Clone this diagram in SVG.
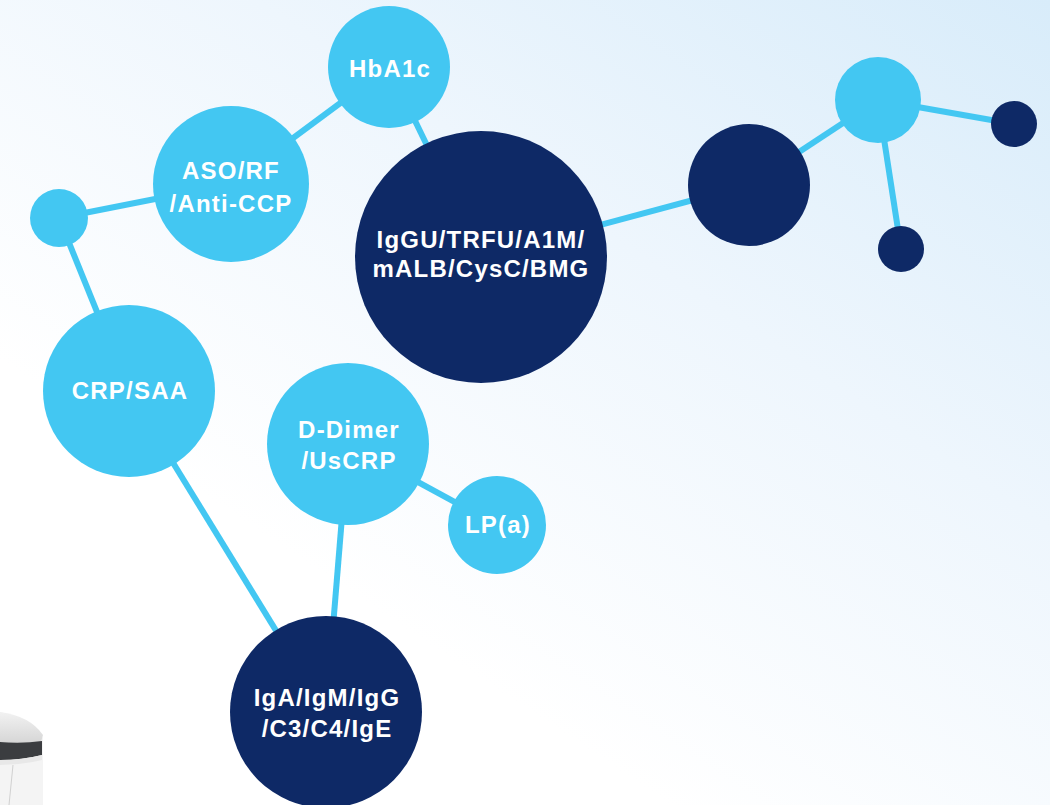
<svg xmlns="http://www.w3.org/2000/svg" width="1050" height="805" viewBox="0 0 1050 805">
<defs>
<linearGradient id="bg" x1="1" y1="0" x2="0.35" y2="0.75">
<stop offset="0" stop-color="#d8ecfa"/>
<stop offset="0.5" stop-color="#eef6fd"/>
<stop offset="1" stop-color="#ffffff"/>
</linearGradient>
<linearGradient id="lid" x1="0" y1="0" x2="0" y2="1">
<stop offset="0" stop-color="#f2f2f2"/>
<stop offset="1" stop-color="#d6d6d6"/>
</linearGradient>
<style>
.lb{fill:#43c7f2}
.db{fill:#0e2966}
.t{fill:#ffffff;font-family:"Liberation Sans",Arial,sans-serif;font-weight:bold;font-size:24px;letter-spacing:1.2px;text-anchor:middle}
#connectors line{stroke:#43c7f2;stroke-width:6}
</style>
</defs>
<rect width="1050" height="805" fill="url(#bg)"/>
<g id="device">
<path d="M0,712 Q30,718 43,738 L43,805 L0,805 Z" fill="#f4f4f4"/>
<path d="M0,712 Q30,716 43,735 L41,742 Q20,744 0,742 Z" fill="url(#lid)"/>
<path d="M0,742 Q22,744 42,741 L42,755 Q22,760 0,760 Z" fill="#3b3d40"/>
<path d="M0,760 Q22,760 42,755 L42,760 Q22,765 0,765 Z" fill="#e8e8e8"/>
<line x1="13" y1="765" x2="9" y2="805" stroke="#d0d0d0" stroke-width="1"/>
</g>
<g id="connectors">
<line x1="59" y1="218" x2="231" y2="184"/>
<line x1="59" y1="218" x2="129" y2="391"/>
<line x1="231" y1="184" x2="389" y2="67"/>
<line x1="389" y1="67" x2="481" y2="257"/>
<line x1="481" y1="257" x2="749" y2="185"/>
<line x1="749" y1="185" x2="878" y2="100"/>
<line x1="878" y1="100" x2="1014" y2="124"/>
<line x1="878" y1="100" x2="901" y2="249"/>
<line x1="129" y1="391" x2="326" y2="712"/>
<line x1="348" y1="444" x2="326" y2="712"/>
<line x1="348" y1="444" x2="497" y2="525"/>
</g>
<g id="n-hba1c"><circle class="lb" cx="389" cy="67" r="61"/><text class="t" x="390" y="77">HbA1c</text></g>
<g id="n-aso"><circle class="lb" cx="231" cy="184" r="78"/><text class="t" x="231" y="179">ASO/RF</text><text class="t" x="231" y="212">/Anti-CCP</text></g>
<g id="n-small-left"><circle class="lb" cx="59" cy="218" r="29"/></g>
<g id="n-crp"><circle class="lb" cx="129" cy="391" r="86"/><text class="t" x="130" y="399">CRP/SAA</text></g>
<g id="n-iggu"><circle class="db" cx="481" cy="257" r="126"/><text class="t" x="481" y="248">IgGU/TRFU/A1M/</text><text class="t" x="481" y="277">mALB/CysC/BMG</text></g>
<g id="n-dark-mid"><circle class="db" cx="749" cy="185" r="61"/></g>
<g id="n-light-right"><circle class="lb" cx="878" cy="100" r="43"/></g>
<g id="n-dark-right"><circle class="db" cx="1014" cy="124" r="23"/></g>
<g id="n-dark-bottom"><circle class="db" cx="901" cy="249" r="23"/></g>
<g id="n-ddimer"><circle class="lb" cx="348" cy="444" r="81"/><text class="t" x="349" y="438">D-Dimer</text><text class="t" x="349" y="469">/UsCRP</text></g>
<g id="n-lpa"><circle class="lb" cx="497" cy="525" r="49"/><text class="t" x="498" y="533">LP(a)</text></g>
<g id="n-iga"><circle class="db" cx="326" cy="712" r="96"/><text class="t" x="327" y="706">IgA/IgM/IgG</text><text class="t" x="327" y="737">/C3/C4/IgE</text></g>
</svg>
